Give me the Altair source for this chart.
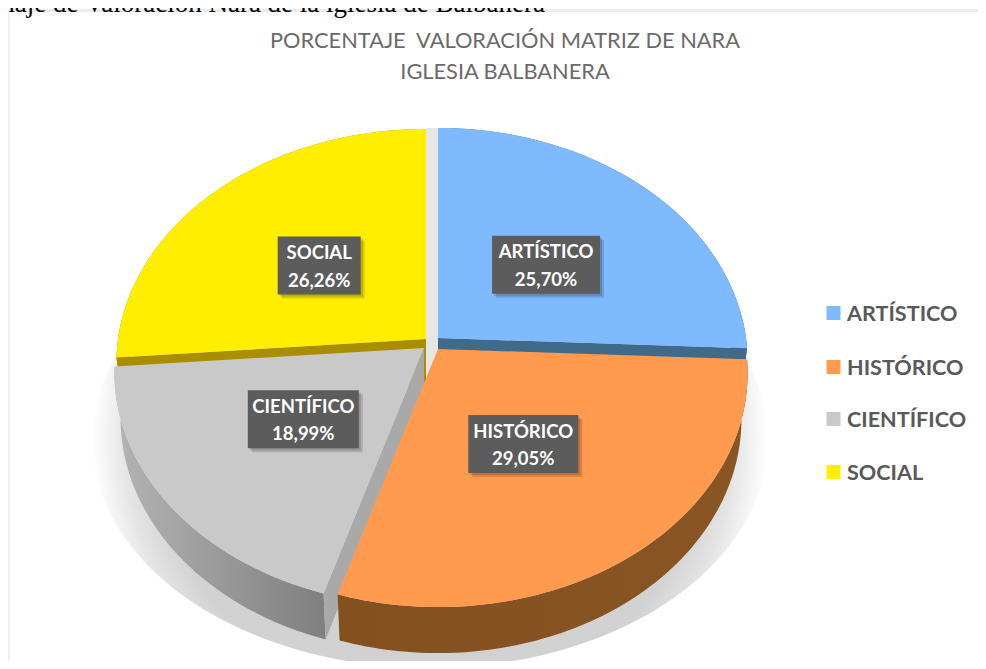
import numpy as np
import altair as alt

categories = ["ARTÍSTICO", "HISTÓRICO", "CIENTÍFICO", "SOCIAL"]
shares = [25.70, 29.05, 18.99, 26.26]
value_labels = ["25,70%", "29,05%", "18,99%", "26,26%"]
title_lines = ["PORCENTAJE \u00a0VALORACIÓN MATRIZ DE NARA", "IGLESIA BALBANERA"]
caption = "naje de Valoración Nara de la iglesia de Balbanera"

top_colors = ["#7fb9ff", "#ff9a4f", "#c9c9c9", "#ffee00"]
side_colors = [["#3f6a8a", "#3f6a8a"], ["#85501f", "#8a5524"],
               ["#b4b4b4", "#7f7f7f"], ["#a98f00", "#a98f00"]]
cut_colors = ["#3f6a8a", "#85501f", "#a9a9a9", "#a98f00"]
apexes = [(438, 338), (438, 349), (424, 348), (426, 339)]
label_fx = [0.52, 0.44, 0.47, 0.505]
label_fy = [0.49, 0.46, 0.46, 0.50]
box_widths = [108, 110, 111, 83]
legend_y = [313, 367, 419, 472]

W, H = 970, 653
A, B, K, DEPTH, SX = 308.0, 231.6, 0.1027, 46.0, 0.98

edges = np.radians(np.concatenate([[0], np.cumsum(shares)]) * 3.6)


def rim(theta, apex):
    d = 1 + K * np.cos(theta)
    return apex[0] + A * np.sin(theta) / d, apex[1] - B * np.cos(theta) / d


def lower(x, y, apex):
    return apex[0] + SX * (x - apex[0]), y + DEPTH


def shape(points, fill, opacity=1):
    ring = [[float(a), float(b)] for a, b in points]
    ring.append(ring[0])
    feature = {"type": "Feature", "properties": {},
               "geometry": {"type": "Polygon", "coordinates": [ring]}}
    return (alt.Chart(alt.Data(values=[feature]))
            .mark_geoshape(fill=fill, stroke="transparent", strokeWidth=0, opacity=opacity)
            .project(type="identity", scale=1, translate=[-8, -8]))


def top(i):
    th = np.linspace(edges[i], edges[i + 1], 90)
    xs, ys = rim(th, apexes[i])
    return shape([apexes[i]] + list(zip(xs, ys)), top_colors[i])


def side(i):
    th = np.linspace(edges[i], edges[i + 1], 90)
    xs, ys = rim(th, apexes[i])
    bx, by = lower(xs, ys, apexes[i])
    pts = list(zip(xs, ys)) + list(zip(bx[::-1], by[::-1]))
    a, b = side_colors[i]
    grad = {"gradient": "linear", "x1": 0, "y1": 0, "x2": 1, "y2": 0,
            "stops": [{"offset": 0, "color": a}, {"offset": 1, "color": b}]}
    return shape(pts, grad)


def cut(i, theta):
    x, y = rim(theta, apexes[i])
    bx, by = lower(x, y, apexes[i])
    ax, ay = apexes[i]
    return shape([(ax, ay), (x, y), (bx, by), (ax, ay + DEPTH)], cut_colors[i])


def ellipse(cx, cy, rx, ry):
    t = np.linspace(0, 2 * np.pi, 160)[:-1]
    return list(zip(cx + rx * np.cos(t), cy + ry * np.sin(t)))


X = lambda f: alt.X(f"{f}:Q", scale=alt.Scale(domain=[8, 8 + W], range=[0, W], nice=False, zero=False), axis=None)
Y = lambda f: alt.Y(f"{f}:Q", scale=alt.Scale(domain=[8, 8 + H], range=[0, H], nice=False, zero=False), axis=None)

shadow = shape(ellipse(430, 440, 338, 228), {
    "gradient": "radial", "x1": 0.5, "y1": 0.5, "r1": 0, "x2": 0.5, "y2": 0.5, "r2": 0.5,
    "stops": [{"offset": 0, "color": "#cfcfcf"}, {"offset": 0.8, "color": "#d2d2d2"},
              {"offset": 0.9, "color": "#e4e4e4"}, {"offset": 1, "color": "#ffffff"}]})

frame = alt.Chart(alt.Data(values=[
    {"x": 8, "x2": 10, "y": 9, "y2": 661, "c": "#f0f0f0"},
    {"x": 8, "x2": 978, "y": 9, "y2": 12, "c": "#ececec"},
])).mark_rect().encode(x=X("x"), x2="x2:Q", y=Y("y"), y2="y2:Q",
                       color=alt.Color("c:N", scale=None))

gap = shape([apexes[3], (apexes[3][0], 128), (apexes[0][0], 128),
             (apexes[0][0], apexes[1][1] + DEPTH), (apexes[3][0], apexes[1][1] + DEPTH)], "#e6e6e6")

pieces = [frame, shadow, gap,
          side(0), side(3),
          cut(0, edges[1]), cut(3, edges[3]),
          top(0), top(3),
          side(2), cut(2, edges[2]), side(1),
          top(2), top(1)]

rows, boxes = [], []
for i, name in enumerate(categories):
    mid = (edges[i] + edges[i + 1]) / 2
    fx, fy = rim(mid, apexes[i])
    cx = float(apexes[i][0] + label_fx[i] * (fx - apexes[i][0]))
    cy = float(apexes[i][1] + label_fy[i] * (fy - apexes[i][1]))
    rows.append({"x": cx, "y": cy - 12.5, "t": name})
    rows.append({"x": cx, "y": cy + 15, "t": value_labels[i]})
    boxes.append({"x": cx - box_widths[i] / 2, "x2": cx + box_widths[i] / 2, "y": cy - 29, "y2": cy + 29})

shadow_boxes = [{"x": b["x"] + d, "x2": b["x2"] + d, "y": b["y"] + d, "y2": b["y2"] + d}
                for b in boxes for d in (2, 4)]

box_shadow = alt.Chart(alt.Data(values=shadow_boxes)).mark_rect(color="#000000", opacity=0.14).encode(
    x=X("x"), x2="x2:Q", y=Y("y"), y2="y2:Q")
box = alt.Chart(alt.Data(values=boxes)).mark_rect(color="#5c5c5c").encode(
    x=X("x"), x2="x2:Q", y=Y("y"), y2="y2:Q")
label_text = alt.Chart(alt.Data(values=rows)).mark_text(
    font="Lato", fontSize=18.5, fontWeight="bold", color="#ffffff", align="center", baseline="middle"
).encode(x=X("x"), y=Y("y"), text="t:N")

title = alt.Chart(alt.Data(values=[
    {"x": 505, "y": 41, "t": title_lines[0]}, {"x": 505, "y": 72, "t": title_lines[1]}
])).mark_text(font="Lato", fontSize=21.8, color="#6a6a6a", align="center", baseline="middle").encode(
    x=X("x"), y=Y("y"), text="t:N")

cap = alt.Chart(alt.Data(values=[{"x": 545, "y": 12, "t": caption}])).mark_text(
    font="Liberation Serif", fontSize=27, color="#000000", align="right", baseline="alphabetic"
).encode(x=X("x"), y=Y("y"), text="t:N")

legend_rows = [{"x": 833.5, "tx": 847, "y": y, "ty": y + 1.5, "t": n, "c": c}
               for y, n, c in zip(legend_y, categories, top_colors)]
legend_marks = alt.Chart(alt.Data(values=legend_rows)).mark_square(size=196, opacity=1, filled=True).encode(
    x=X("x"), y=Y("y"), color=alt.Color("c:N", scale=None))
legend_text = alt.Chart(alt.Data(values=legend_rows)).mark_text(
    font="Lato", fontSize=21.6, fontWeight="bold", color="#595959", align="left", baseline="middle"
).encode(x=X("tx"), y=Y("ty"), text="t:N")

chart = alt.layer(*pieces, box_shadow, box, label_text, title, cap, legend_marks, legend_text).properties(
    width=W, height=H, padding=0, background="#ffffff",
    autosize=alt.AutoSizeParams(type="none")
).configure_view(stroke=None)

chart.save("out.html", embed_options={"renderer": "svg", "actions": False})
